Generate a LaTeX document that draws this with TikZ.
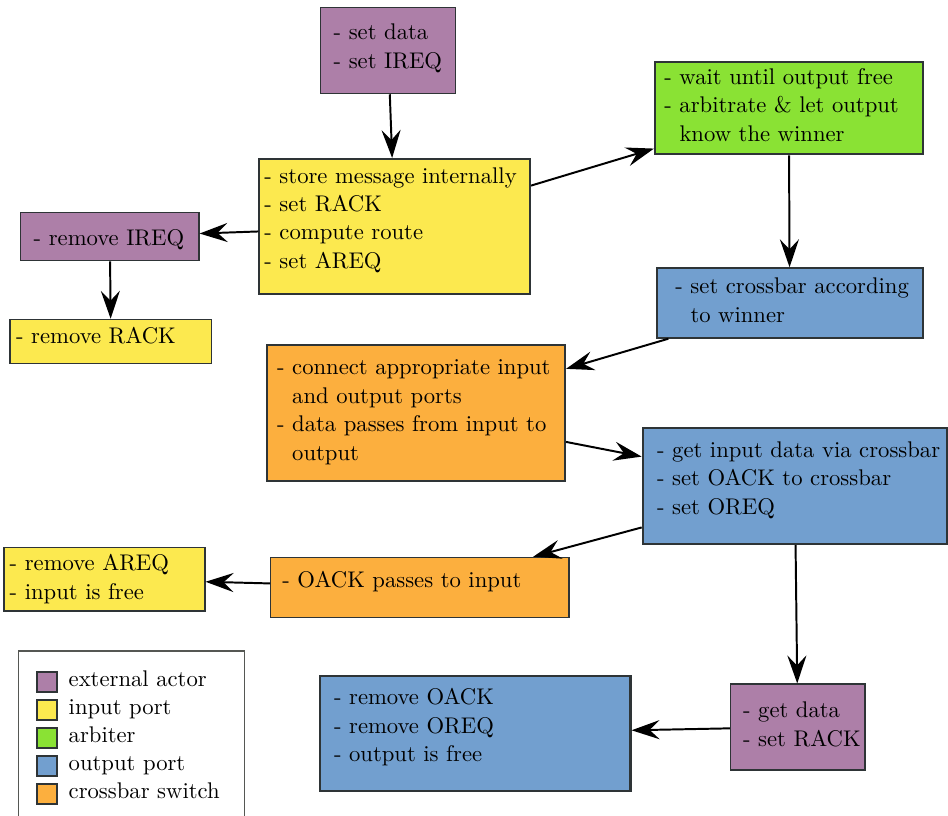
\documentclass[tikz,border=0pt]{standalone}
\usetikzlibrary{arrows.meta,fit}

% Tango palette
\definecolor{plum}{HTML}{AD7FA8}
\definecolor{butter}{HTML}{FCE94F}
\definecolor{chameleon}{HTML}{8AE234}
\definecolor{skyblue}{HTML}{729FCF}
\definecolor{tangoorange}{HTML}{FCAF3E}
\definecolor{edge}{HTML}{2E3436}
\definecolor{frame}{HTML}{555753}

% text nodes are anchored at the baseline of their last line
\tikzset{
  box/.style={rectangle, inner sep=0pt, draw=edge, line width=1pt},
  lightbox/.style={rectangle, inner sep=0pt, draw=edge, line width=0.55pt},
  txt/.style={inner sep=0pt, anchor=base west, align=left,
              font=\fontsize{10.95}{13.7}\selectfont},
  flow/.style={draw, line width=0.95pt,
               -{Stealth[length=13.5pt,width=9.2pt,inset=4.8pt]}},
  keybox/.style={rectangle, inner sep=0pt, draw=edge, line width=1pt},
}

\begin{document}
\begin{tikzpicture}[x=0.4831pt, y=-0.4831pt]
\useasboundingbox (0,0) rectangle (948,816);

% ---- legend ----
\node[rectangle, inner sep=0pt, draw=frame, line width=0.55pt,
      fit={(18.3,651) (244.3,818)}] (legend) {};
\node[keybox, fill=plum,        fit={(36.7,672.3) (56.7,692.3)}] (k1) {};
\node[keybox, fill=butter,      fit={(36.7,700.2) (56.7,720.2)}] (k2) {};
\node[keybox, fill=chameleon,   fit={(36.7,728.1) (56.7,748.1)}] (k3) {};
\node[keybox, fill=skyblue,     fit={(36.7,756.0) (56.7,776.0)}] (k4) {};
\node[keybox, fill=tangoorange, fit={(36.7,783.9) (56.7,803.9)}] (k5) {};
\node[txt] (k1t) at (68.3,686.7) {external actor};
\node[txt] (k2t) at (68.3,714.6) {input port};
\node[txt] (k3t) at (68.3,742.5) {arbiter};
\node[txt] (k4t) at (68.3,770.4) {output port};
\node[txt] (k5t) at (68.3,798.3) {crossbar switch};

% ---- boxes ----
\node[lightbox, fill=plum, fit={(320.7,7.3) (455.7,93.7)}] (setdata) {};
\node[txt] (setdata-t) at (333.3,68.3) {- set data\\- set IREQ};

\node[box, fill=butter, fit={(259.3,159) (530,294.3)}] (store) {};
\node[txt] (store-t) at (264,268.3)
  {- store message internally\\- set RACK\\- compute route\\- set AREQ};

\node[lightbox, fill=plum, fit={(20.7,212.7) (199,260.7)}] (rmireq) {};
\node[txt] (rmireq-t) at (33.3,245.7) {- remove IREQ};

\node[lightbox, fill=butter, fit={(10,319.3) (211.7,363.3)}] (rmrack) {};
\node[txt] (rmrack-t) at (15.7,343.3) {- remove RACK};

\node[box, fill=chameleon, fit={(655,61.7) (922.7,154.3)}] (wait) {};
\node[txt] (wait-t) at (664,141)
  {- wait until output free\\- arbitrate \& let output\\\hphantom{- }know the winner};

\node[box, fill=skyblue, fit={(656.7,268.3) (922.7,337.7)}] (setxbar) {};
\node[txt] (setxbar-t) at (675,322)
  {- set crossbar according\\\hphantom{- }to winner};

\node[box, fill=tangoorange, fit={(266.7,345) (565,480.7)}] (connect) {};
\node[txt] (connect-t) at (276.7,460)
  {- connect appropriate input\\\hphantom{- }and output ports\\- data passes from input to\\\hphantom{- }output};

\node[box, fill=skyblue, fit={(642.7,428.3) (947,544)}] (getin) {};
\node[txt] (getin-t) at (656.7,514)
  {- get input data via crossbar\\- set OACK to crossbar\\- set OREQ};

\node[lightbox, fill=tangoorange, fit={(270.7,557.3) (569,617.3)}] (oack) {};
\node[txt] (oack-t) at (282,587.3) {- OACK passes to input};

\node[lightbox, fill=butter, fit={(4,547.3) (205,611)}] (rmareq) {};
\node[txt] (rmareq-t) at (9.3,599.3) {- remove AREQ\\- input is free};

\node[box, fill=skyblue, fit={(319.8,675.7) (630.5,791)}] (rmoack) {};
\node[txt] (rmoack-t) at (333.6,761.7)
  {- remove OACK\\- remove OREQ\\- output is free};

\node[lightbox, fill=plum, fit={(730.5,684) (865,770)}] (getdata) {};
\node[txt] (getdata-t) at (742.7,746) {- get data\\- set RACK};

% ---- flow ----
\draw[flow] (setdata) -- (store);
\draw[flow] (store) -- (rmireq);
\draw[flow] (rmireq) -- (rmrack);
\draw[flow] (store) -- (wait);
\draw[flow] (wait) -- (setxbar);
\draw[flow] (setxbar) -- (connect);
\draw[flow] (connect) -- (getin);
\draw[flow] (getin) -- (oack);
\draw[flow] (oack) -- (rmareq);
\draw[flow] (getin) -- (getdata);
\draw[flow] (getdata) -- (rmoack);
\end{tikzpicture}
\end{document}
